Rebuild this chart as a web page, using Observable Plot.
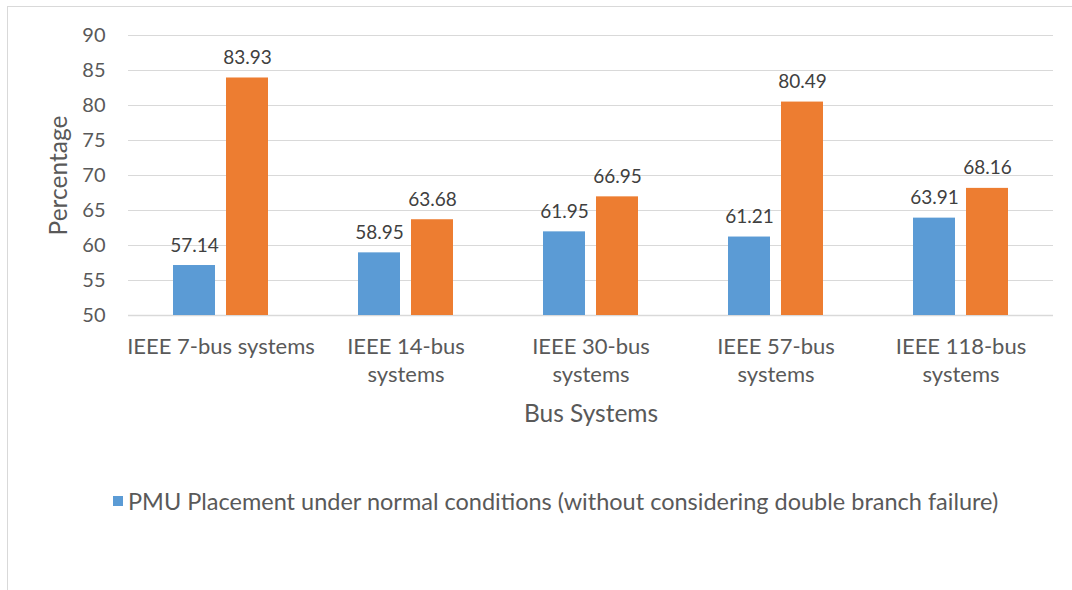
<!DOCTYPE html>
<html>
<head>
<meta charset="utf-8">
<script src="https://cdn.jsdelivr.net/npm/d3@7"></script>
<script src="https://cdn.jsdelivr.net/npm/@observablehq/plot@0.6"></script>
<style>
  html, body { margin: 0; padding: 0; background: #fff; width: 1072px; height: 590px; overflow: hidden; }
  body { position: relative; font-family: Lato, "Open Sans", sans-serif; }
  #frame { position: absolute; left: 7px; top: 6px; width: 1080px; height: 600px;
           border-left: 1px solid #d9d9d9; border-top: 1px solid #d9d9d9; }
  #chart { position: absolute; left: 0; top: 0; }
  #legend { position: absolute; left: 113px; top: 487px; display: flex; align-items: center;
            font-size: 23.5px; color: #595959; white-space: nowrap; }
  #legend .sw { width: 10px; height: 10px; background: #5B9BD5; margin-right: 5px; }
</style>
</head>
<body>
<div id="frame"></div>
<div id="chart"></div>
<div id="legend"><span class="sw"></span><span>PMU Placement under normal conditions (without considering double branch failure)</span></div>
<script>
const categories = ["IEEE 7-bus systems", "IEEE 14-bus systems", "IEEE 30-bus systems", "IEEE 57-bus systems", "IEEE 118-bus systems"];
const tickLabels = ["IEEE 7-bus systems", "IEEE 14-bus\nsystems", "IEEE 30-bus\nsystems", "IEEE 57-bus\nsystems", "IEEE 118-bus\nsystems"];
const seriesNames = ["PMU Placement under normal conditions (without considering double branch failure)",
                     "PMU Placement considering double branch failure"];
const normalValues = [57.14, 58.95, 61.95, 61.21, 63.91];
const failureValues = [83.93, 63.68, 66.95, 80.49, 68.16];
const yTicks = [50, 55, 60, 65, 70, 75, 80, 85, 90];
const colors = ["#5B9BD5", "#ED7D31"];

const data = [];
categories.forEach((c, i) => {
  data.push({cat: c, series: seriesNames[0], value: normalValues[i]});
  data.push({cat: c, series: seriesNames[1], value: failureValues[i]});
});
const labelOf = new Map(categories.map((c, i) => [c, tickLabels[i]]));

const chart = Plot.plot({
  width: 1072,
  height: 440,
  marginTop: 35,
  marginBottom: 125,
  marginLeft: 128,
  marginRight: 19,
  style: {fontFamily: "Lato, 'Open Sans', sans-serif", fontSize: "20px", color: "#595959", background: "transparent"},
  fx: {domain: categories, padding: 0, label: null},
  x: {domain: seriesNames, paddingInner: 0.215, paddingOuter: 0.836, axis: null},
  y: {domain: [50, 90], ticks: yTicks},
  color: {domain: seriesNames, range: colors},
  marks: [
    Plot.ruleY(yTicks.slice(1), {stroke: "#d9d9d9", strokeWidth: 1}),
    Plot.ruleY([50], {stroke: "#d9d9d9", strokeWidth: 1.3}),
    Plot.barY(data, {fx: "cat", x: "series", y1: 50, y2: "value", fill: "series", inset: 0}),
    Plot.text(data, {fx: "cat", x: "series", y: "value", text: d => d.value.toFixed(2), dy: -20,
                     fill: "#404040", fontSize: 19}),
    Plot.axisY({ticks: yTicks, tickSize: 0, tickPadding: 23, fontSize: 20,
                label: "Percentage", labelAnchor: "center", labelOffset: 79, labelArrow: "none"}),
    Plot.axisFx({anchor: "bottom", tickSize: 0, tickPadding: 19, fontSize: 22, lineAnchor: "top",
                 tickFormat: c => labelOf.get(c), lineHeight: 1.27,
                 label: "Bus Systems", labelAnchor: "center", labelOffset: 106, labelArrow: "none"})
  ]
});
chart.querySelectorAll('g[aria-label$="axis label"]').forEach(g => g.setAttribute("font-size", "24.5"));
document.getElementById("chart").appendChild(chart);
</script>
</body>
</html>
